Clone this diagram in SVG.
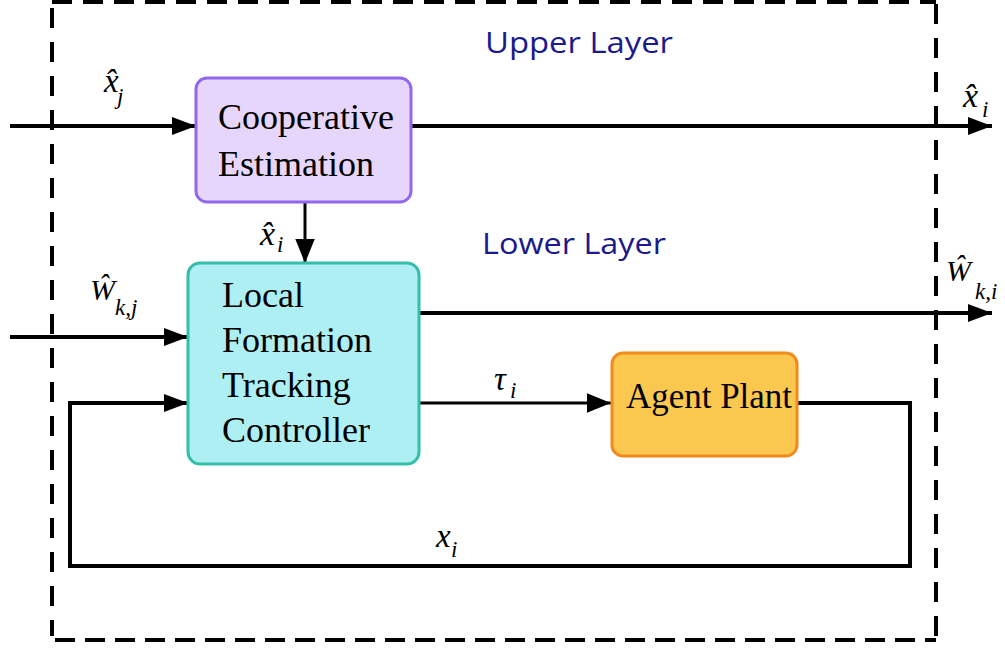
<svg xmlns="http://www.w3.org/2000/svg" width="1005" height="651" viewBox="0 0 1005 651">
<defs>
<marker id="ah" viewBox="0 0 10 10" refX="10" refY="5" markerWidth="6" markerHeight="4.5" markerUnits="strokeWidth" orient="auto" preserveAspectRatio="none">
<path d="M0,0 L10,5 L0,10 Z" fill="#000"/>
</marker>
<marker id="ah2" viewBox="0 0 10 10" refX="10" refY="5" markerWidth="8" markerHeight="6.5" markerUnits="strokeWidth" orient="auto" preserveAspectRatio="none">
<path d="M0,0 L10,5 L0,10 Z" fill="#000"/>
</marker>
</defs>
<style>
.frame{fill:none;stroke:#000;stroke-width:4;}
.box{stroke-width:3;}
.lbl{font-family:"Liberation Serif","Times New Roman",serif;font-size:36px;fill:#000;}
.m{font-family:"Liberation Serif","Times New Roman",serif;font-style:italic;fill:#000;}
.layer{font-family:"Open Sans","Liberation Sans",sans-serif;font-size:30px;fill:#1a1a8c;}
.w{fill:none;stroke:#000;stroke-width:4;}
.w3{fill:none;stroke:#000;stroke-width:3;}
</style>
<rect width="1005" height="651" fill="#fff"/>
<g id="frame">
<line class="frame" x1="52" y1="2" x2="936" y2="2" stroke-dasharray="20,11"/>
<line class="frame" x1="52" y1="8" x2="52" y2="636" stroke-dasharray="20,14"/>
<line class="frame" x1="936" y1="4" x2="936" y2="636" stroke-dasharray="20,14"/>
<line class="frame" x1="55" y1="640" x2="936" y2="640" stroke-dasharray="20,10"/>
</g>
<g id="layer-labels">
<text class="layer" x="485" y="53" textLength="188" lengthAdjust="spacingAndGlyphs">Upper Layer</text>
<text class="layer" x="482" y="254" textLength="184" lengthAdjust="spacingAndGlyphs">Lower Layer</text>
</g>
<g id="connectors">
<line class="w" x1="10" y1="126" x2="196" y2="126" marker-end="url(#ah)"/>
<line class="w" x1="410" y1="126" x2="992" y2="126" marker-end="url(#ah)"/>
<line class="w3" x1="305" y1="202" x2="305" y2="263" marker-end="url(#ah2)"/>
<line class="w" x1="10" y1="337" x2="188" y2="337" marker-end="url(#ah)"/>
<line class="w" x1="419" y1="313" x2="992" y2="313" marker-end="url(#ah)"/>
<line class="w3" x1="419" y1="403" x2="611" y2="403" marker-end="url(#ah2)"/>
<polyline class="w" points="797,403 910,403 910,566 70,566 70,403 188,403" marker-end="url(#ah)"/>
</g>
<g id="connector-labels">
<text class="m" x="104" y="92" font-size="33">x̂</text><text class="m" x="117" y="104" font-size="23">j</text>
<text class="m" x="963" y="107" font-size="34">x̂</text><text class="m" x="982" y="117" font-size="23">i</text>
<text class="m" x="260" y="245" font-size="34">x̂</text><text class="m" x="277" y="252" font-size="23">i</text>
<text class="m" x="90" y="300" font-size="30">Ŵ</text><text class="m" x="115" y="315" font-size="23">k,j</text>
<text class="m" x="946" y="281" font-size="30">Ŵ</text><text class="m" x="975" y="299" font-size="23">k,i</text>
<text class="m" x="494" y="390" font-size="33">τ</text><text class="m" x="510" y="398" font-size="23">i</text>
<text class="m" x="436" y="547" font-size="33">x</text><text class="m" x="451" y="557" font-size="23">i</text>
</g>
<g id="cooperative-estimation">
<rect class="box" x="196" y="78" width="215" height="124" rx="11" fill="#e6d6fb" stroke="#9466ee"/>
<text class="lbl" x="218" y="129">Cooperative</text>
<text class="lbl" x="218" y="176">Estimation</text>
</g>
<g id="local-formation-tracking-controller">
<rect class="box" x="188" y="263" width="231" height="201" rx="12" fill="#aeeff4" stroke="#35bfa9"/>
<text class="lbl" x="222" y="307">Local</text>
<text class="lbl" x="222" y="352">Formation</text>
<text class="lbl" x="222" y="397">Tracking</text>
<text class="lbl" x="222" y="442">Controller</text>
</g>
<g id="agent-plant">
<rect class="box" x="612" y="353" width="185" height="103" rx="11" fill="#fac84f" stroke="#f28a1c"/>
<text class="lbl" x="626" y="408" font-size="34" textLength="166" lengthAdjust="spacingAndGlyphs">Agent Plant</text>
</g>
</svg>
